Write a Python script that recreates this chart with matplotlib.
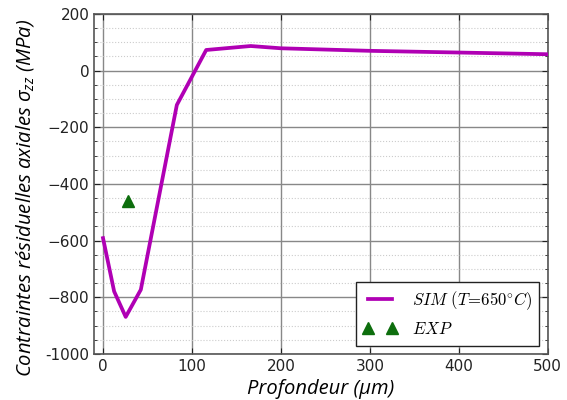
import numpy as np
import matplotlib
matplotlib.use("Agg")
import matplotlib.pyplot as plt
from matplotlib.ticker import MultipleLocator

# simulated profile (depth in um, stress in MPa)
sim_depth = [0, 12.5, 25.5, 42.5, 83, 116, 166, 200, 300, 400, 500]
sim_stress = [-591, -779, -869, -773, -121, 73, 87, 79, 70, 64, 58]

# experimental point
exp_depth = [28]
exp_stress = [-461]

yticks = [200, 0, -200, -400, -600, -800, -1000]
ytick_labels = ['200', '0', '\u2212200', '\u2212400', '\u2212600', '\u2212800', '-1000']
xticks = [0, 100, 200, 300, 400, 500]

plt.rcParams['mathtext.fontset'] = 'custom'
plt.rcParams['mathtext.it'] = 'Open Sans:italic'
plt.rcParams['mathtext.rm'] = 'Open Sans'

fig = plt.figure(figsize=(5.67, 4.0), dpi=100)
ax = fig.add_axes([0.166, 0.115, 0.80, 0.85])

ax.plot(sim_depth, sim_stress, color='#b000b4', lw=2.7, label=r'$SIM\ (T\!=\!650^{\circ}C)$', zorder=3)
ax.plot(exp_depth, exp_stress, '^', color='#0d6e0d', ms=8, ls='none', label=r'$EXP$', zorder=4)

ax.set_xlim(-10, 500)
ax.set_ylim(-1000, 200)
ax.set_xticks(xticks)
ax.set_yticks(yticks)
ax.set_yticklabels(ytick_labels)
ax.yaxis.set_minor_locator(MultipleLocator(50))

ax.tick_params(which='both', direction='in', top=True, right=True, labelsize=11, colors='#222222')
ax.tick_params(which='major', length=4)
ax.tick_params(which='minor', length=2.5)
for s in ax.spines.values():
    s.set_color('#555555')
    s.set_linewidth(1.2)

ax.grid(which='major', color='#888888', lw=1.0, ls='-')
ax.grid(which='minor', axis='y', color='#cccccc', lw=0.8, ls=':')
ax.set_axisbelow(True)

ax.set_xlabel('Profondeur (\u03bcm)', fontsize=14.5, family='Open Sans', style='italic')
ax.set_ylabel(r'Contraintes résiduelles axiales $\sigma_{zz}$ (MPa)', fontsize=14.6,
              family='Open Sans', style='italic')
ax.yaxis.set_label_coords(-0.128, 0.46)

leg = ax.legend(loc='lower right', numpoints=2, fancybox=False, framealpha=1,
                edgecolor='#222222', borderaxespad=0.5, handlelength=2.0,
                handletextpad=0.9, borderpad=0.45, prop={'size': 12})
for t in leg.get_texts():
    t.set_math_fontfamily('cm')
leg.get_frame().set_linewidth(1.0)

fig.savefig('out.png', dpi=100)
